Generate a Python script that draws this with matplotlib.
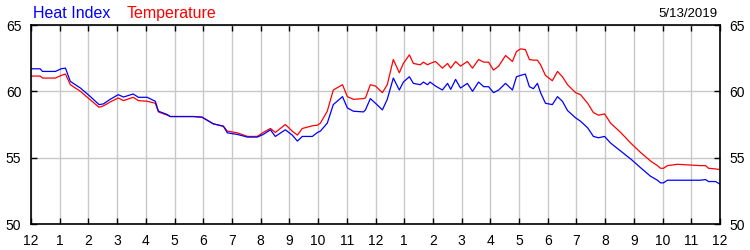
import matplotlib
matplotlib.use("Agg")
import matplotlib.pyplot as plt

plt.rcParams['font.family'] = ['Liberation Sans', 'DejaVu Sans']

hours = [0.00, 0.32, 0.40, 0.85, 1.05, 1.20, 1.37, 1.72, 2.07, 2.37, 2.52, 2.76, 3.04, 3.22,
         3.56, 3.74, 4.05, 4.33, 4.44, 4.75, 4.85, 5.66, 5.96, 6.35, 6.70, 6.84, 7.19, 7.54,
         7.88, 8.09, 8.34, 8.51, 8.86, 9.10, 9.28, 9.45, 9.80, 9.98, 10.08, 10.32, 10.53,
         10.85, 11.02, 11.23, 11.58, 11.65, 11.82, 12.00, 12.24, 12.41, 12.62, 12.83, 12.97,
         13.18, 13.32, 13.56, 13.67, 13.81, 13.90, 14.09, 14.33, 14.51, 14.62, 14.79, 14.96,
         15.20, 15.38, 15.59, 15.77, 15.94, 16.11, 16.29, 16.53, 16.77, 16.91, 17.05, 17.22,
         17.36, 17.50, 17.64, 17.75, 17.92, 18.16, 18.34, 18.51, 18.69, 18.97, 19.14, 19.39,
         19.59, 19.77, 19.98, 20.19, 20.54, 20.89, 21.23, 21.58, 21.82, 21.93, 22.03, 22.17,
         22.52, 23.32, 23.50, 23.60, 23.85, 24.00]

heat_index = [61.7, 61.7, 61.5, 61.5, 61.7, 61.75, 60.75, 60.25, 59.6, 59.0, 59.05, 59.4, 59.75, 59.57,
              59.8, 59.55, 59.55, 59.25, 58.5, 58.25, 58.1, 58.1, 58.05, 57.55, 57.37, 56.87, 56.75, 56.55,
              56.55, 56.75, 57.1, 56.6, 57.1, 56.7, 56.25, 56.6, 56.6, 56.9, 57.0, 57.6, 59.0,
              59.6, 58.75, 58.5, 58.45, 58.6, 59.45, 59.1, 58.6, 59.4, 61.0, 60.1, 60.7,
              61.1, 60.6, 60.5, 60.7, 60.5, 60.7, 60.4, 60.1, 60.6, 60.15, 60.9, 60.25,
              60.6, 60.0, 60.7, 60.35, 60.35, 59.9, 60.1, 60.6, 60.1, 61.1, 61.2, 61.3,
              60.35, 60.2, 60.6, 59.9, 59.1, 59.0, 59.6, 59.25, 58.55, 58.0, 57.75, 57.25,
              56.6, 56.5, 56.6, 56.1, 55.5, 54.9, 54.25, 53.6, 53.3, 53.1, 53.1, 53.3,
              53.3, 53.3, 53.35, 53.2, 53.2, 53.0]

temperature = [61.15, 61.15, 61.0, 61.0, 61.2, 61.3, 60.5, 60.0, 59.35, 58.8, 58.9, 59.2, 59.5, 59.3,
               59.55, 59.3, 59.25, 59.1, 58.45, 58.2, 58.1, 58.1, 58.05, 57.55, 57.37, 57.0, 56.87, 56.6,
               56.6, 56.9, 57.2, 56.9, 57.5, 57.0, 56.7, 57.2, 57.4, 57.45, 57.6, 58.5, 60.1,
               60.5, 59.6, 59.4, 59.45, 59.5, 60.5, 60.4, 59.9, 60.5, 62.4, 61.4, 62.1,
               62.75, 62.1, 62.0, 62.2, 62.0, 62.1, 62.25, 61.75, 62.1, 61.75, 62.25, 61.9,
               62.25, 61.75, 62.4, 62.2, 62.2, 61.6, 61.9, 62.7, 62.25, 63.0, 63.2, 63.15,
               62.4, 62.35, 62.35, 62.0, 61.2, 60.8, 61.5, 61.1, 60.5, 59.9, 59.75, 59.1,
               58.4, 58.2, 58.3, 57.6, 56.9, 56.1, 55.4, 54.75, 54.4, 54.2, 54.2, 54.4,
               54.5, 54.4, 54.4, 54.2, 54.15, 54.1]

tick_hours = list(range(25))
tick_labels = ['12', '1', '2', '3', '4', '5', '6', '7', '8', '9', '10', '11',
               '12', '1', '2', '3', '4', '5', '6', '7', '8', '9', '10', '11', '12']
y_ticks = [50, 55, 60, 65]
date_label = '5/13/2019'

fig = plt.figure(figsize=(7.5, 2.5), dpi=100)
ax = fig.add_axes([31/750, 1-224/250, (720-31)/750, (224-25)/250])

ax.plot(hours, temperature, color='#ff0000', lw=0.9, zorder=3)
ax.plot(hours, heat_index, color='#0000ff', lw=0.9, zorder=4)

ax.set_xlim(0, 24)
ax.set_ylim(50, 65)
ax.set_xticks(tick_hours)
ax.set_xticklabels(tick_labels)
ax.set_yticks(y_ticks)
ax.grid(True, color='#c8c8c8', lw=1.0, zorder=1)
ax.tick_params(direction='in', length=4, width=1, labelsize=10, pad=7,
               top=True, right=True, labelright=True, colors='black')
for s in ax.spines.values():
    s.set_linewidth(1.2)
    s.set_zorder(5)

fig.text(33/750, 1-17.5/250, 'Heat Index', color='#0000ff', fontsize=11.5, va='baseline', ha='left')
fig.text(127/750, 1-17.5/250, 'Temperature', color='#ff0000', fontsize=11.5, va='baseline', ha='left')
fig.text(718/750, 1-17/250, date_label, color='black', fontsize=9.5, va='baseline', ha='right')

fig.savefig('out.png', dpi=100)
